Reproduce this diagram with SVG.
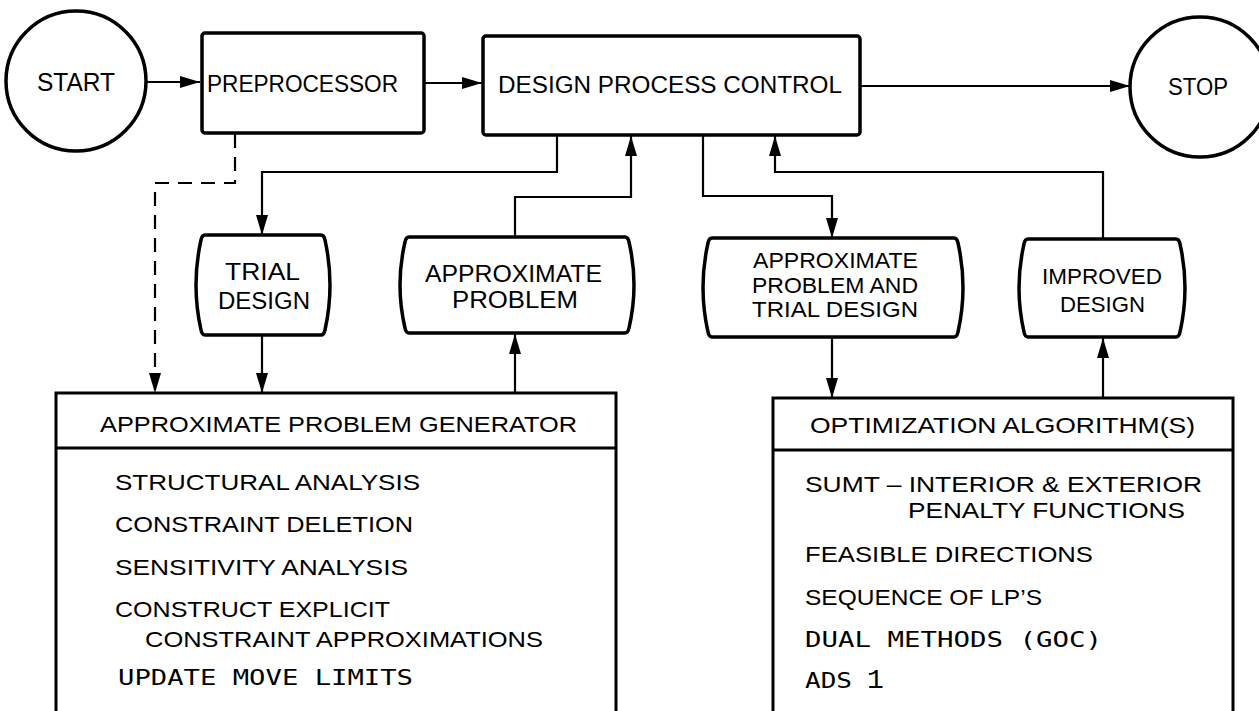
<svg xmlns="http://www.w3.org/2000/svg" width="1259" height="711" viewBox="0 0 1259 711">
<defs>
<style>
.bg{fill:#fff}
.node{fill:#fff;stroke:#000;stroke-width:3.5;stroke-linejoin:round}
.box{fill:#fff;stroke:#000;stroke-width:3}
.div{stroke:#000;stroke-width:3;fill:none}
.edge{fill:none;stroke:#000;stroke-width:2.2}
.dash{stroke-dasharray:14,9}
.t{font-family:"Liberation Sans",Arial,sans-serif;font-size:22px;fill:#000}
.b{font-family:"Liberation Sans",Arial,sans-serif;font-size:22px;fill:#000}
.m{font-family:"DejaVu Sans Mono","Liberation Mono",monospace;font-size:22px;fill:#000}
</style>
<marker id="ah" markerUnits="userSpaceOnUse" markerWidth="20" markerHeight="12" refX="20" refY="6" orient="auto">
<path d="M0,0 L20,6 L0,12 z" fill="#000"/>
</marker>
</defs>
<rect class="bg" x="0" y="0" width="1259" height="711"/>

<g id="connectors">
<path class="edge" d="M147,82 H200" marker-end="url(#ah)"/>
<path class="edge" d="M424,83 H482" marker-end="url(#ah)"/>
<path class="edge" d="M860,86 H1130" marker-end="url(#ah)"/>
<path class="edge" d="M557,135 V172 H262 V235" marker-end="url(#ah)"/>
<path class="edge" d="M515,237 V197 H631 V136" marker-end="url(#ah)"/>
<path class="edge" d="M703,135 V196 H832 V238" marker-end="url(#ah)"/>
<path class="edge" d="M1103,239 V172 H775 V136" marker-end="url(#ah)"/>
<path class="edge" d="M262,335 V393" marker-end="url(#ah)"/>
<path class="edge" d="M515,393 V334" marker-end="url(#ah)"/>
<path class="edge" d="M832,337 V398" marker-end="url(#ah)"/>
<path class="edge" d="M1103,398 V338" marker-end="url(#ah)"/>
<path class="edge dash" d="M235,134 V183 H155 V393" marker-end="url(#ah)"/>
</g>

<g id="start">
<circle class="node" cx="76" cy="81" r="70"/>
<text class="t" x="37" y="91" textLength="78" lengthAdjust="spacingAndGlyphs" style="font-size:25px">START</text>
</g>

<g id="preprocessor">
<rect class="node" x="202" y="33" width="222" height="100" rx="3"/>
<text class="t" x="207" y="92" textLength="191" lengthAdjust="spacingAndGlyphs" style="font-size:24px">PREPROCESSOR</text>
</g>

<g id="design-process-control">
<rect class="node" x="483" y="36" width="377" height="99" rx="3"/>
<text class="t" x="498" y="93" textLength="344" lengthAdjust="spacingAndGlyphs" style="font-size:23px">DESIGN PROCESS CONTROL</text>
</g>

<g id="stop">
<circle class="node" cx="1200" cy="87" r="70"/>
<text class="t" x="1168" y="95" textLength="60" lengthAdjust="spacingAndGlyphs" style="font-size:23px">STOP</text>
</g>

<g id="trial-design">
<path class="node" d="M205,235 H321 Q324,235 325,240 Q335,285 325,330 Q324,335 321,335 H205 Q202,335 201,330 Q191,285 201,240 Q202,235 205,235 Z"/>
<text class="t" x="225" y="280" textLength="75" lengthAdjust="spacingAndGlyphs" style="font-size:23px">TRIAL</text>
<text class="t" x="218" y="309" textLength="92" lengthAdjust="spacingAndGlyphs" style="font-size:23px">DESIGN</text>
</g>

<g id="approximate-problem">
<path class="node" d="M409,237 H625 Q628,237 629,242 Q639,285 629,328 Q628,333 625,333 H409 Q406,333 405,328 Q395,285 405,242 Q406,237 409,237 Z"/>
<text class="t" x="425" y="282" textLength="177" lengthAdjust="spacingAndGlyphs" style="font-size:23px">APPROXIMATE</text>
<text class="t" x="452" y="308" textLength="126" lengthAdjust="spacingAndGlyphs" style="font-size:23px">PROBLEM</text>
</g>

<g id="approximate-problem-and-trial-design">
<path class="node" d="M712,238 H954 Q957,238 958,243 Q968,287.5 958,332 Q957,337 954,337 H712 Q709,337 708,332 Q698,287.5 708,243 Q709,238 712,238 Z"/>
<text class="t" x="753" y="268" textLength="165" lengthAdjust="spacingAndGlyphs">APPROXIMATE</text>
<text class="t" x="752" y="293" textLength="166" lengthAdjust="spacingAndGlyphs">PROBLEM AND</text>
<text class="t" x="752" y="317" textLength="166" lengthAdjust="spacingAndGlyphs">TRIAL DESIGN</text>
</g>

<g id="improved-design">
<path class="node" d="M1028,239 H1176 Q1179,239 1180,244 Q1190,288 1180,332 Q1179,337 1176,337 H1028 Q1025,337 1024,332 Q1014,288 1024,244 Q1025,239 1028,239 Z"/>
<text class="t" x="1042" y="284" textLength="120" lengthAdjust="spacingAndGlyphs">IMPROVED</text>
<text class="t" x="1060" y="312" textLength="85" lengthAdjust="spacingAndGlyphs">DESIGN</text>
</g>

<g id="approximate-problem-generator">
<rect class="box" x="56" y="393" width="560" height="330"/>
<line class="div" x1="56" y1="448" x2="616" y2="448"/>
<text class="b" x="100" y="432" textLength="477" lengthAdjust="spacingAndGlyphs">APPROXIMATE PROBLEM GENERATOR</text>
<text class="b" x="115" y="490" textLength="305" lengthAdjust="spacingAndGlyphs">STRUCTURAL ANALYSIS</text>
<text class="b" x="115" y="532" textLength="298" lengthAdjust="spacingAndGlyphs">CONSTRAINT DELETION</text>
<text class="b" x="115" y="575" textLength="293" lengthAdjust="spacingAndGlyphs">SENSITIVITY ANALYSIS</text>
<text class="b" x="115" y="617" textLength="275" lengthAdjust="spacingAndGlyphs">CONSTRUCT EXPLICIT</text>
<text class="b" x="145" y="647" textLength="398" lengthAdjust="spacingAndGlyphs">CONSTRAINT APPROXIMATIONS</text>
<text class="m" x="118" y="685" textLength="295" lengthAdjust="spacingAndGlyphs">UPDATE MOVE LIMITS</text>
</g>

<g id="optimization-algorithms">
<rect class="box" x="773" y="398" width="460" height="325"/>
<line class="div" x1="773" y1="450" x2="1233" y2="450"/>
<text class="b" x="810" y="433" textLength="385" lengthAdjust="spacingAndGlyphs">OPTIMIZATION ALGORITHM(S)</text>
<text class="b" x="805" y="492" textLength="397" lengthAdjust="spacingAndGlyphs">SUMT – INTERIOR &amp; EXTERIOR</text>
<text class="b" x="908" y="518" textLength="277" lengthAdjust="spacingAndGlyphs">PENALTY FUNCTIONS</text>
<text class="b" x="805" y="562" textLength="288" lengthAdjust="spacingAndGlyphs">FEASIBLE DIRECTIONS</text>
<text class="b" x="805" y="605" textLength="237" lengthAdjust="spacingAndGlyphs">SEQUENCE OF LP’S</text>
<text class="m" x="805" y="647" textLength="297" lengthAdjust="spacingAndGlyphs">DUAL METHODS (GOC)</text>
<text class="m" x="805" y="688" textLength="47" lengthAdjust="spacingAndGlyphs">ADS</text>
<text x="867" y="688" style="font-family:'Liberation Mono','DejaVu Sans Mono',monospace;font-size:28px;fill:#000">1</text>
</g>
</svg>
